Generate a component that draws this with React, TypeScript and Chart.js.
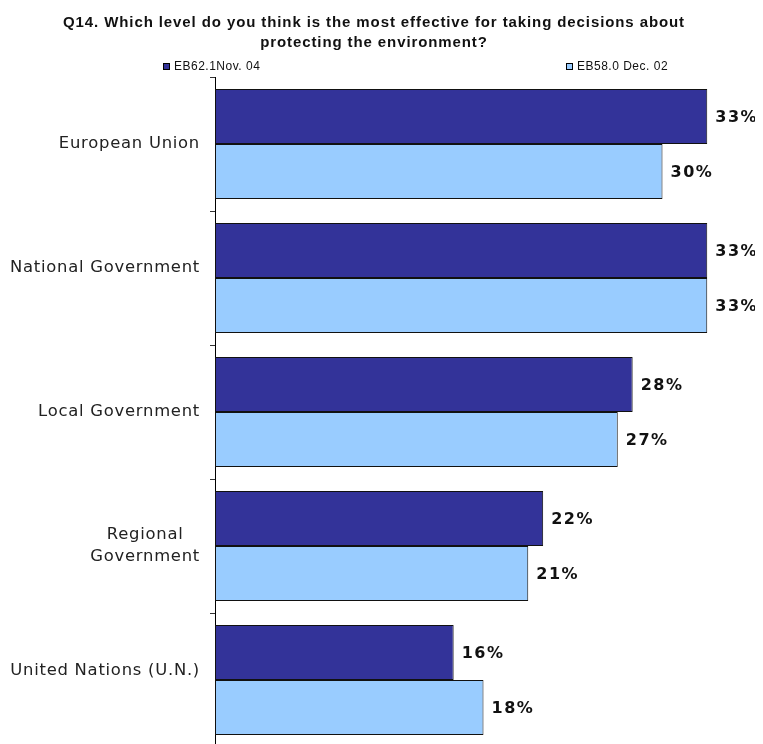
import React, { useEffect, useRef } from "react";
import { Chart, registerables } from "chart.js";

Chart.register(...registerables);

const titleLines = [
  "Q14. Which level do you think is the most effective for taking decisions about",
  "protecting the environment?",
];
const categories = [
  "European Union",
  "National Government",
  "Local Government",
  "Regional\nGovernment",
  "United Nations (U.N.)",
];
const seriesNames = ["EB62.1Nov. 04", "EB58.0 Dec. 02"];
const seriesNov04 = [33, 33, 28, 22, 16];
const seriesDec02 = [30, 33, 27, 21, 18];
const xMax = 36;

const DARK = "#333399";
const LIGHT = "#99CCFF";
// small vertical nudges of the axis labels, as in the original layout
const LABEL_SHIFT = [0, -10, 0, 0, -9];

const textPlugin = {
  id: "customText",
  afterDraw(chart: any) {
    const ctx = chart.ctx as CanvasRenderingContext2D;
    ctx.save();
    // Title
    ctx.fillStyle = "#111";
    ctx.font = "bold 15px 'Liberation Sans', Arial, sans-serif";
    (ctx as any).letterSpacing = "0.9px";
    ctx.textAlign = "center";
    ctx.textBaseline = "alphabetic";
    ctx.fillText(titleLines[0], 366, 19);
    ctx.fillText(titleLines[1], 366, 39);

    // Legend
    const legendItems = [
      { x: 155, color: DARK, label: seriesNames[0] },
      { x: 558, color: LIGHT, label: seriesNames[1] },
    ];
    ctx.font = "12px 'Liberation Sans', Arial, sans-serif";
    (ctx as any).letterSpacing = "0.5px";
    ctx.textAlign = "left";
    for (const it of legendItems) {
      ctx.fillStyle = it.color;
      ctx.fillRect(it.x, 55, 6, 6);
      ctx.strokeStyle = "#000";
      ctx.lineWidth = 1;
      ctx.strokeRect(it.x + 0.5, 55.5, 6, 6);
      ctx.fillStyle = "#111";
      ctx.fillText(it.label, it.x + 11, 62);
    }

    // Category labels
    const yScale = chart.scales.y;
    ctx.font = "16.4px 'DejaVu Sans', Verdana, sans-serif";
    (ctx as any).letterSpacing = "0.75px";
    ctx.fillStyle = "#222";
    ctx.textBaseline = "middle";
    ctx.textAlign = "center";
    const rightEdge = 192;
    const lineH = 22;
    categories.forEach((cat, i) => {
      const lines = cat.split("\n");
      const w = Math.max(...lines.map((l) => ctx.measureText(l).width));
      const cx = rightEdge - w / 2;
      const cy = yScale.getPixelForValue(i) + LABEL_SHIFT[i];
      lines.forEach((l, j) => {
        const y = cy + (j - (lines.length - 1) / 2) * lineH;
        ctx.fillText(l, cx, y);
      });
    });

    // Value labels
    ctx.font = "bold 16px 'DejaVu Sans', Verdana, sans-serif";
    (ctx as any).letterSpacing = "1.5px";
    ctx.fillStyle = "#111";
    ctx.textAlign = "left";
    chart.data.datasets.forEach((ds: any, di: number) => {
      const meta = chart.getDatasetMeta(di);
      meta.data.forEach((bar: any, i: number) => {
        ctx.fillText(ds.data[i] + "%", bar.x + 8, bar.y + 1);
      });
    });
    ctx.restore();
  },
};

export default function App() {
  const ref = useRef<HTMLCanvasElement>(null);
  useEffect(() => {
    document.body.style.overflow = "hidden";
    const chart = new Chart(ref.current!, {
      type: "bar",
      data: {
        labels: categories,
        datasets: [
          {
            label: seriesNames[0],
            data: seriesNov04,
            backgroundColor: DARK,
            borderColor: "#111",
            borderWidth: 1,
            borderSkipped: false,
            categoryPercentage: 0.82,
            barPercentage: 1,
          },
          {
            label: seriesNames[1],
            data: seriesDec02,
            backgroundColor: LIGHT,
            borderColor: "#111",
            borderWidth: 1,
            borderSkipped: false,
            categoryPercentage: 0.82,
            barPercentage: 1,
          },
        ],
      },
      options: {
        indexAxis: "y",
        animation: false,
        responsive: false,
        maintainAspectRatio: false,
        layout: { padding: { top: 69, bottom: 6, right: 11, left: 0 } },
        plugins: {
          legend: { display: false },
          title: { display: false },
          tooltip: { enabled: false },
        },
        scales: {
          x: {
            display: false,
            min: 0,
            max: xMax,
          },
          y: {
            offset: true,
            grid: {
              display: true,
              offset: true,
              drawOnChartArea: false,
              drawTicks: true,
              tickLength: 5,
              color: "#333",
            },
            border: { display: true, color: "#000", width: 1 },
            ticks: { display: false },
            afterFit: (scale: any) => {
              scale.width = 207;
            },
          },
        },
      },
      plugins: [textPlugin],
    });
    return () => chart.destroy();
  }, []);
  return (
    <div style={{ width: 755, height: 745 }}>
      <canvas ref={ref} width={755} height={745} style={{ display: "block" }} />
    </div>
  );
}
